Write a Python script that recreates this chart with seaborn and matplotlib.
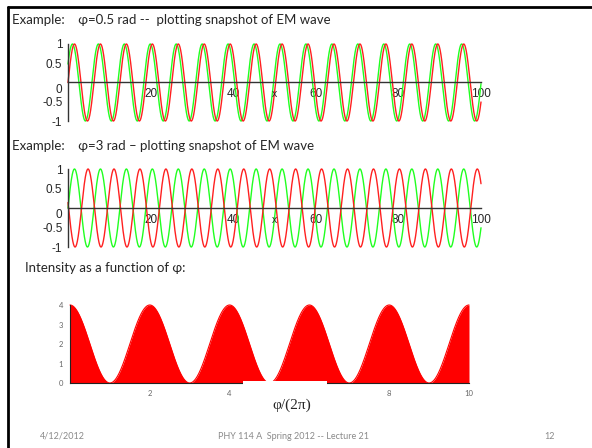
import numpy as np
import pandas as pd
import matplotlib
matplotlib.use('Agg')
import matplotlib.pyplot as plt
import matplotlib.transforms as mtransforms
from matplotlib.patches import Rectangle
from matplotlib.lines import Line2D
from matplotlib.ticker import MultipleLocator
import seaborn as sns

sns.set_style('white')
plt.rcParams['font.family'] = ['Lato', 'DejaVu Sans']

# ---- data ----
wave_x_range = [0, 100]
wave_phase_1 = 0.5      # rad, first snapshot
wave_phase_2 = 3.0      # rad, second snapshot
wave_xticks = [20, 40, 60, 80, 100]
wave_yticks = [-1, -0.5, 0, 0.5, 1]
wave_ylabels = ['-1', '-0.5', '0', '0.5', '1']

intensity_x_range = [0, 10]
intensity_peak = 4
intensity_xticks = [2, 4, 6, 8, 10]
intensity_yticks = [0, 1, 2, 3, 4]

title_1 = 'Example:    \u03c6=0.5 rad --  plotting snapshot of EM wave'
title_2 = 'Example:    \u03c6=3 rad \u2013 plotting snapshot of EM wave'
title_3 = 'Intensity as a function of \u03c6:'
xlabel_3 = '\u03c6/(2\u03c0)'
footer = ['4/12/2012', 'PHY 114 A  Spring 2012 -- Lecture 21', '12']

RED = '#ff2020'
GREEN = '#20ff20'

W, H = 592, 448
fig = plt.figure(figsize=(W / 100, H / 100), dpi=100)


def px_rect(x0, x1, ytop, ybot):
    return [x0 / W, 1 - ybot / H, (x1 - x0) / W, (ybot - ytop) / H]


def wave_panel(rect, curves):
    ax = fig.add_axes(rect)
    ax.patch.set_alpha(0)
    x = np.linspace(wave_x_range[0], wave_x_range[1], 3000)
    frames = []
    for name, phase in curves:
        frames.append(pd.DataFrame({'x': x, 'y': np.sin(x + phase), 'curve': name}))
    df = pd.concat(frames)
    sns.lineplot(data=df, x='x', y='y', hue='curve',
                 palette={'green': GREEN, 'red': RED}, hue_order=['green', 'red'],
                 legend=False, linewidth=1.0, estimator=None, sort=False, ax=ax)
    for l in ax.lines:
        l.set_clip_on(False)
    ax.set_xlim(wave_x_range)
    ax.set_ylim(-1, 1)
    ax.set_xlabel('')
    ax.set_ylabel('')
    for s in ['top', 'right']:
        ax.spines[s].set_visible(False)
    ax.spines['bottom'].set_position(('data', 0))
    ax.spines['left'].set_position(('data', 0))
    for s in ['bottom', 'left']:
        ax.spines[s].set_color('#333333')
        ax.spines[s].set_linewidth(1.0)
        ax.spines[s].set_zorder(3)
    ax.set_xticks(wave_xticks)
    ax.set_xticklabels([str(t) for t in wave_xticks])
    ax.xaxis.set_minor_locator(MultipleLocator(5))
    ax.set_yticks(wave_yticks)
    ax.set_yticklabels(wave_ylabels)
    ax.yaxis.set_minor_locator(MultipleLocator(0.1))
    ax.tick_params(axis='both', which='major', length=3, width=0.8, color='#333333',
                   labelsize=8.5, pad=1)
    ax.tick_params(axis='both', which='minor', length=1.5, width=0.6, color='#333333')
    for lab in ax.get_xticklabels() + ax.get_yticklabels():
        lab.set_family(['Liberation Sans Narrow', 'Liberation Sans'])
    # the "0" label sits a little below the axis
    zero = ax.get_yticklabels()[2]
    zero.set_transform(zero.get_transform() +
                       mtransforms.ScaledTranslation(0, -4 / 72, fig.dpi_scale_trans))
    ax.text(50, -0.3, 'x', ha='center', va='center', fontsize=7.5,
            family=['Liberation Sans Narrow', 'Liberation Sans'])
    return ax


wave_panel(px_rect(68, 481, 44, 121), [('red', 0.0), ('green', wave_phase_1)])
wave_panel(px_rect(68, 481, 169, 247), [('green', 0.0), ('red', wave_phase_2)])

# intensity panel
ax3 = fig.add_axes(px_rect(70, 469, 305, 383))
xi = np.linspace(intensity_x_range[0], intensity_x_range[1], 2000)
yi = intensity_peak * np.cos(np.pi * xi / 2) ** 2
sns.lineplot(x=xi, y=yi, color='#ff0000', linewidth=0.8, ax=ax3)
ax3.fill_between(xi, 0, yi, color='#ff0000', linewidth=0)
ax3.set_xlim(intensity_x_range)
ax3.set_ylim(0, intensity_peak)
for l in ax3.lines:
    l.set_clip_on(False)
for s in ['top', 'right']:
    ax3.spines[s].set_visible(False)
for s in ['bottom', 'left']:
    ax3.spines[s].set_color('#222222')
    ax3.spines[s].set_linewidth(0.8)
ax3.set_xticks(intensity_xticks)
ax3.set_yticks(intensity_yticks)
ax3.xaxis.set_minor_locator(MultipleLocator(0.5))
ax3.yaxis.set_minor_locator(MultipleLocator(0.2))
ax3.tick_params(axis='both', which='major', length=3, width=0.7, color='#222222',
                labelsize=5.5, labelcolor='#666666', pad=2)
ax3.tick_params(axis='both', which='minor', length=1.5, width=0.5, color='#222222')

fig.add_artist(Rectangle((243 / W, 1 - 399 / H), (327 - 243) / W, (399 - 381) / H,
                         transform=fig.transFigure, facecolor='white',
                         edgecolor='none', zorder=10))
fig.text(292 / W, 1 - 405 / H, xlabel_3, ha='center', va='center', fontsize=11,
         family=['Liberation Serif', 'DejaVu Serif'], zorder=11)

# slide text
fig.text(12 / W, 1 - 20 / H, title_1, fontsize=9.5, va='center')
fig.text(12 / W, 1 - 146 / H, title_2, fontsize=9.5, va='center')
fig.text(25 / W, 1 - 268 / H, title_3, fontsize=9.5, va='center')

fig.text(40 / W, 1 - 436 / H, footer[0], fontsize=6.5, color='#8a8a8a', va='center')
fig.text(293 / W, 1 - 436 / H, footer[1], fontsize=6.5, color='#8a8a8a',
         ha='center', va='center')
fig.text(555 / W, 1 - 436 / H, footer[2], fontsize=6.5, color='#8a8a8a',
         ha='right', va='center')

# slide border on the left and top
fig.add_artist(Line2D([8 / W, 8 / W], [0, 1 - 7 / H], color='black', lw=2,
                      transform=fig.transFigure))
fig.add_artist(Line2D([8 / W, 1], [1 - 7 / H, 1 - 7 / H], color='black', lw=2,
                      transform=fig.transFigure))

fig.savefig('out.png', dpi=100)
